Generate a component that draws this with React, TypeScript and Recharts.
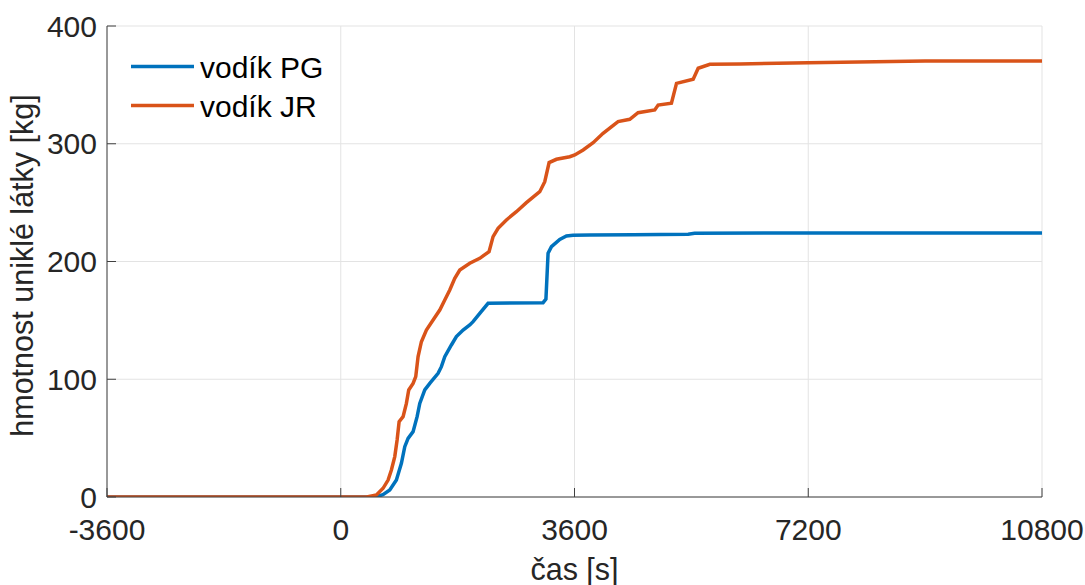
import React from 'react';
import { LineChart, Line, XAxis, YAxis, CartesianGrid, Legend } from 'recharts';

const seriesNames = ['vodík PG', 'vodík JR'];
const seriesColors = ['#0072BD', '#D95319'];

const xTicks = [-3600, 0, 3600, 7200, 10800];
const yTicks = [0, 100, 200, 300, 400];
const xLabel = 'čas [s]';
const yLabel = 'hmotnost uniklé látky [kg]';

const pgTime = [-3600, 0, 450, 549, 650, 755, 857, 934, 986, 1037, 1114, 1176, 1217, 1294, 1371, 1499, 1550, 1602, 1704, 1781, 1884, 1987, 2038, 2141, 2269, 3116, 3160, 3193, 3245, 3373, 3476, 3578, 3835, 4500, 5350, 5450, 7200, 10800];
const pgMass = [0, 0, 0, 0.3, 2, 5.9, 14.4, 28.6, 42.7, 49.8, 55.5, 68.2, 79.5, 90.9, 96.5, 105, 110.7, 119.2, 129.1, 136.2, 141.8, 146.1, 148.9, 156, 164.5, 165, 168, 207, 212.6, 218.8, 221.7, 222.2, 222.5, 222.8, 223.2, 224, 224.2, 224.3];

const jrTime = [-3600, 0, 400, 549, 652, 729, 780, 832, 868, 899, 960, 1011, 1047, 1114, 1155, 1191, 1242, 1319, 1422, 1525, 1602, 1679, 1756, 1833, 1987, 2141, 2284, 2346, 2423, 2551, 2705, 2859, 3065, 3142, 3209, 3322, 3527, 3604, 3733, 3887, 4040, 4271, 4451, 4579, 4836, 4888, 5093, 5171, 5428, 5505, 5685, 6147, 7200, 9000, 10800];
const jrMass = [0, 0, 0, 1.7, 7.4, 14.4, 22.9, 34.3, 48.4, 64, 68.2, 79.5, 90.9, 96.5, 102.2, 119.2, 131.9, 141.8, 150.3, 158.8, 167.3, 175.8, 185.7, 192.8, 198.5, 202.7, 208.4, 221.1, 228.2, 235.3, 242.3, 250, 259.3, 267.8, 284, 286.8, 289, 290.5, 294.7, 300.9, 308.9, 318.8, 320.8, 326.4, 328.7, 332.9, 334.4, 351.3, 354.8, 364.1, 367.5, 367.7, 368.8, 370.2, 370.3];

const pgData = pgTime.map((t, i) => ({ t, v: pgMass[i] }));
const jrData = jrTime.map((t, i) => ({ t, v: jrMass[i] }));

const FONT = '"Liberation Sans", Arial, Helvetica, sans-serif';
const FS = 30;
const FS_LABEL = 30.5;
const TEXT = '#262626';
const AXIS = '#404040';

const XTick = (props: any) => {
  const { x, y, payload } = props;
  return (
    <text x={x} y={y + 21.5} textAnchor="middle" fontFamily={FONT} fontSize={FS} fill={TEXT}>
      {payload.value}
    </text>
  );
};

const YTick = (props: any) => {
  const { x, y, payload } = props;
  return (
    <text x={x} y={y + 10.5} textAnchor="end" fontFamily={FONT} fontSize={FS} fill={TEXT}>
      {payload.value}
    </text>
  );
};

const XLabelContent = (props: any) => {
  const vb = props.viewBox;
  return (
    <text x={vb.x + vb.width / 2} y={vb.y + 83} textAnchor="middle" fontFamily={FONT} fontSize={FS_LABEL} fill={TEXT}>
      {xLabel}
    </text>
  );
};

const YLabelContent = (props: any) => {
  const vb = props.viewBox;
  const cx = vb.x + 33;
  const cy = vb.y + vb.height / 2 + 4;
  return (
    <text
      x={cx}
      y={cy}
      transform={`rotate(-90 ${cx} ${cy})`}
      textAnchor="middle"
      fontFamily={FONT}
      fontSize={FS_LABEL}
      fill={TEXT}
    >
      {yLabel}
    </text>
  );
};

const LegendContent = () => (
  <svg width={400} height={140} style={{ display: 'block' }}>
    {seriesNames.map((name, i) => (
      <g key={name}>
        <line x1={131} x2={194} y1={66.5 + i * 39} y2={66.5 + i * 39} stroke={seriesColors[i]} strokeWidth={3.5} />
        <text x={200} y={78 + i * 39} fontFamily={FONT} fontSize={FS} fill="#000">
          {name}
        </text>
      </g>
    ))}
  </svg>
);

export default function App() {
  return (
    <div style={{ position: 'absolute', left: 0, top: 0, width: 1085, height: 585, background: '#fff' }}>
      <LineChart width={1085} height={585} margin={{ top: 26, right: 43, left: 0, bottom: 0 }}>
        <CartesianGrid stroke="#e3e3e3" strokeWidth={1} />
        <XAxis
          type="number"
          dataKey="t"
          domain={[-3600, 10800]}
          ticks={xTicks}
          interval={0}
          height={88}
          tickSize={-9}
          tickMargin={30}
          axisLine={{ stroke: AXIS, strokeWidth: 1 }}
          tickLine={{ stroke: AXIS, strokeWidth: 1 }}
          tick={<XTick />}
          label={<XLabelContent />}
          allowDataOverflow
        />
        <YAxis
          type="number"
          domain={[0, 400]}
          ticks={yTicks}
          interval={0}
          width={107}
          tickSize={-9}
          tickMargin={19}
          axisLine={{ stroke: AXIS, strokeWidth: 1 }}
          tickLine={{ stroke: AXIS, strokeWidth: 1 }}
          tick={<YTick />}
          label={<YLabelContent />}
          allowDataOverflow
        />
        <Legend
          layout="vertical"
          align="center"
          verticalAlign="middle"
          content={<LegendContent />}
          wrapperStyle={{ position: 'absolute', left: 0, top: 0, width: 400, height: 140 }}
        />
        <Line
          data={pgData}
          dataKey="v"
          name={seriesNames[0]}
          type="linear"
          stroke={seriesColors[0]}
          strokeWidth={3.5}
          dot={false}
          activeDot={false}
          isAnimationActive={false}
        />
        <Line
          data={jrData}
          dataKey="v"
          name={seriesNames[1]}
          type="linear"
          stroke={seriesColors[1]}
          strokeWidth={3.5}
          dot={false}
          activeDot={false}
          isAnimationActive={false}
        />
      </LineChart>
    </div>
  );
}
